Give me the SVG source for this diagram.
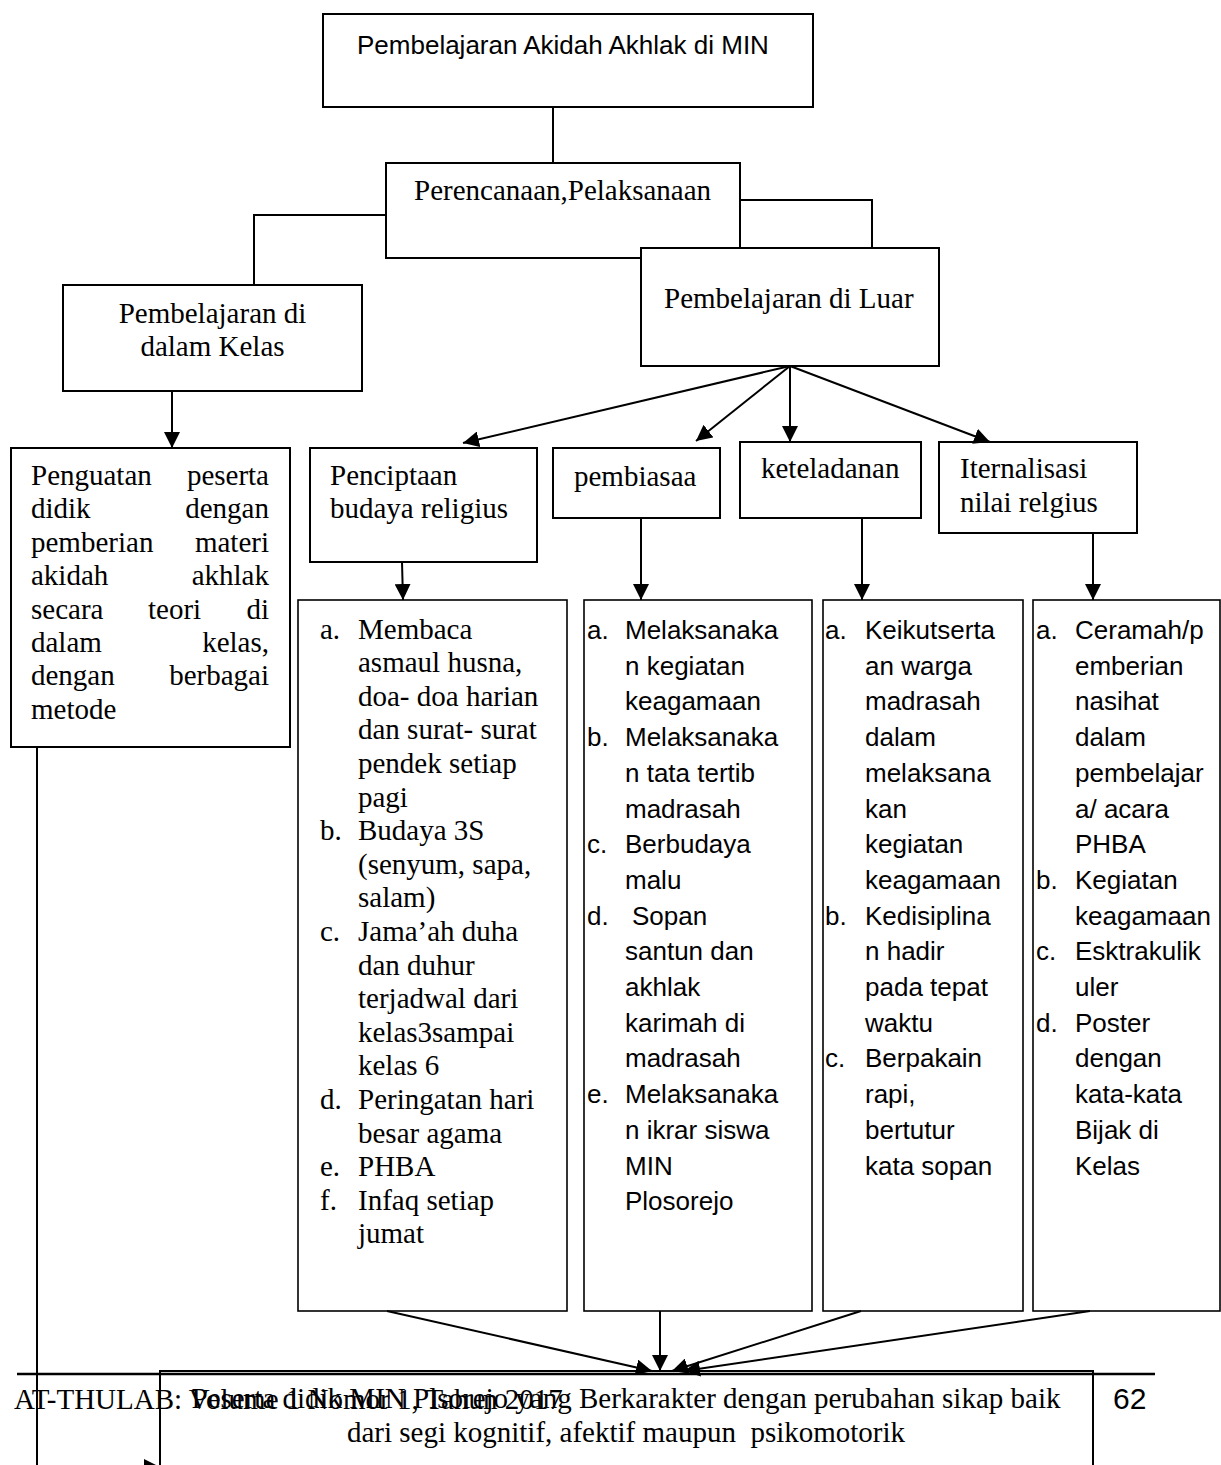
<svg xmlns="http://www.w3.org/2000/svg" width="1221" height="1465" viewBox="0 0 1221 1465">
<style>
  .box { fill: none; stroke: #000; stroke-width: 2; }
  .fbox { fill: #fff; stroke: #000; stroke-width: 2; }
  .lbox { fill: none; stroke: #000; stroke-width: 1.6; }
  .ln { fill: none; stroke: #000; stroke-width: 2; }
  .arr { fill: none; stroke: #000; stroke-width: 2; marker-end: url(#ah); }
  .serif { font-family: "Liberation Serif", "Times New Roman", serif; font-size: 29px; fill: #000; }
  .sans { font-family: "Liberation Sans", Arial, sans-serif; font-size: 26px; fill: #000; }
  .mid { text-anchor: middle; }
  .end { text-anchor: end; }
</style>
<defs>
  <marker id="ah" markerUnits="userSpaceOnUse" markerWidth="16" markerHeight="16" refX="16" refY="8" orient="auto" viewBox="0 0 16 16">
    <path d="M0,0 L16,8 L0,16 Z" fill="#000"/>
  </marker>
</defs>
<rect width="1221" height="1465" fill="#fff"/>

<g id="connectors">
  <line class="ln" x1="553" y1="107" x2="553" y2="163"/>
  <polyline class="ln" points="386,215 254,215 254,285"/>
  <polyline class="ln" points="740,200 872,200 872,248"/>
  <line class="arr" x1="172" y1="391" x2="172" y2="448"/>
  <line class="arr" x1="790" y1="366" x2="463" y2="443"/>
  <line class="arr" x1="790" y1="366" x2="696" y2="441"/>
  <line class="arr" x1="790" y1="366" x2="790" y2="442"/>
  <line class="arr" x1="790" y1="366" x2="990" y2="442"/>
  <line class="arr" x1="402" y1="562" x2="403" y2="600"/>
  <line class="arr" x1="641" y1="518" x2="641" y2="600"/>
  <line class="arr" x1="862" y1="518" x2="862" y2="600"/>
  <line class="arr" x1="1093" y1="533" x2="1093" y2="600"/>
  <line class="arr" x1="387" y1="1311" x2="652" y2="1371"/>
  <line class="arr" x1="660" y1="1311" x2="660" y2="1371"/>
  <line class="arr" x1="861" y1="1311" x2="672" y2="1371"/>
  <line class="arr" x1="1090" y1="1311" x2="684" y2="1371"/>
  <polyline class="arr" points="37,747 37,1467 160,1467"/>
</g>

<g id="node-top">
  <rect class="box" x="323" y="14" width="490" height="93"/>
  <text class="sans" x="357" y="54">Pembelajaran Akidah Akhlak di MIN</text>
</g>

<g id="node-perencanaan">
  <rect class="box" x="386" y="163" width="354" height="95"/>
  <text class="serif" x="414" y="200">Perencanaan,Pelaksanaan</text>
</g>

<g id="node-dalam">
  <rect class="box" x="63" y="285" width="299" height="106"/>
  <text class="serif mid" x="212.5" y="322.7">Pembelajaran di</text>
  <text class="serif mid" x="212.5" y="356">dalam Kelas</text>
</g>

<g id="node-luar">
  <rect class="fbox" x="641" y="248" width="298" height="118"/>
  <text class="serif" x="664" y="308">Pembelajaran di Luar</text>
</g>

<g id="node-penguatan">
  <rect class="box" x="11" y="448" width="279" height="299"/>
  <text class="serif" x="31" y="485">Penguatan</text><text class="serif end" x="269" y="485">peserta</text>
  <text class="serif" x="31" y="518.4">didik</text><text class="serif end" x="269" y="518.4">dengan</text>
  <text class="serif" x="31" y="551.8">pemberian</text><text class="serif end" x="269" y="551.8">materi</text>
  <text class="serif" x="31" y="585.2">akidah</text><text class="serif end" x="269" y="585.2">akhlak</text>
  <text class="serif" x="31" y="618.6">secara</text><text class="serif" x="148" y="618.6">teori</text><text class="serif end" x="269" y="618.6">di</text>
  <text class="serif" x="31" y="652">dalam</text><text class="serif end" x="269" y="652">kelas,</text>
  <text class="serif" x="31" y="685.4">dengan</text><text class="serif end" x="269" y="685.4">berbagai</text>
  <text class="serif" x="31" y="718.8">metode</text>
</g>

<g id="node-penciptaan">
  <rect class="box" x="310" y="448" width="227" height="114"/>
  <text class="serif" x="330" y="485">Penciptaan</text>
  <text class="serif" x="330" y="518">budaya religius</text>
</g>

<g id="node-pembiasaa">
  <rect class="box" x="553" y="448" width="167" height="70"/>
  <text class="serif" x="574" y="486">pembiasaa</text>
</g>

<g id="node-keteladanan">
  <rect class="box" x="740" y="442" width="181" height="76"/>
  <text class="serif" x="761" y="478">keteladanan</text>
</g>

<g id="node-iternalisasi">
  <rect class="box" x="939" y="442" width="198" height="91"/>
  <text class="serif" x="960" y="478">Iternalisasi</text>
  <text class="serif" x="960" y="512">nilai relgius</text>
</g>

<g id="node-list-budaya">
  <rect class="lbox" x="298" y="600" width="269" height="711"/>
  <text class="serif" x="320" y="638.5">a.</text><text class="serif" x="358" y="638.5">Membaca</text>
  <text class="serif" x="358" y="672.1">asmaul husna,</text>
  <text class="serif" x="358" y="705.7">doa- doa harian</text>
  <text class="serif" x="358" y="739.3">dan surat- surat</text>
  <text class="serif" x="358" y="772.9">pendek setiap</text>
  <text class="serif" x="358" y="806.5">pagi</text>
  <text class="serif" x="320" y="840.1">b.</text><text class="serif" x="358" y="840.1">Budaya 3S</text>
  <text class="serif" x="358" y="873.7">(senyum, sapa,</text>
  <text class="serif" x="358" y="907.3">salam)</text>
  <text class="serif" x="320" y="940.9">c.</text><text class="serif" x="358" y="940.9">Jama’ah duha</text>
  <text class="serif" x="358" y="974.5">dan duhur</text>
  <text class="serif" x="358" y="1008.1">terjadwal dari</text>
  <text class="serif" x="358" y="1041.7">kelas3sampai</text>
  <text class="serif" x="358" y="1075.3">kelas 6</text>
  <text class="serif" x="320" y="1108.9">d.</text><text class="serif" x="358" y="1108.9">Peringatan hari</text>
  <text class="serif" x="358" y="1142.5">besar agama</text>
  <text class="serif" x="320" y="1176.1">e.</text><text class="serif" x="358" y="1176.1">PHBA</text>
  <text class="serif" x="320" y="1209.7">f.</text><text class="serif" x="358" y="1209.7">Infaq setiap</text>
  <text class="serif" x="358" y="1243.3">jumat</text>
</g>

<g id="node-list-pembiasaan">
  <rect class="lbox" x="584" y="600" width="228" height="711"/>
  <text class="sans" x="587" y="639">a.</text><text class="sans" x="625" y="639">Melaksanaka</text>
  <text class="sans" x="625" y="674.7">n kegiatan</text>
  <text class="sans" x="625" y="710.4">keagamaan</text>
  <text class="sans" x="587" y="746.1">b.</text><text class="sans" x="625" y="746.1">Melaksanaka</text>
  <text class="sans" x="625" y="781.8">n tata tertib</text>
  <text class="sans" x="625" y="817.5">madrasah</text>
  <text class="sans" x="587" y="853.2">c.</text><text class="sans" x="625" y="853.2">Berbudaya</text>
  <text class="sans" x="625" y="888.9">malu</text>
  <text class="sans" x="587" y="924.6">d.</text><text class="sans" x="632" y="924.6">Sopan</text>
  <text class="sans" x="625" y="960.3">santun dan</text>
  <text class="sans" x="625" y="996">akhlak</text>
  <text class="sans" x="625" y="1031.7">karimah di</text>
  <text class="sans" x="625" y="1067.4">madrasah</text>
  <text class="sans" x="587" y="1103.1">e.</text><text class="sans" x="625" y="1103.1">Melaksanaka</text>
  <text class="sans" x="625" y="1138.8">n ikrar siswa</text>
  <text class="sans" x="625" y="1174.5">MIN</text>
  <text class="sans" x="625" y="1210.2">Plosorejo</text>
</g>

<g id="node-list-keteladanan">
  <rect class="lbox" x="823" y="600" width="200" height="711"/>
  <text class="sans" x="825" y="639">a.</text><text class="sans" x="865" y="639">Keikutserta</text>
  <text class="sans" x="865" y="674.7">an warga</text>
  <text class="sans" x="865" y="710.4">madrasah</text>
  <text class="sans" x="865" y="746.1">dalam</text>
  <text class="sans" x="865" y="781.8">melaksana</text>
  <text class="sans" x="865" y="817.5">kan</text>
  <text class="sans" x="865" y="853.2">kegiatan</text>
  <text class="sans" x="865" y="888.9">keagamaan</text>
  <text class="sans" x="825" y="924.6">b.</text><text class="sans" x="865" y="924.6">Kedisiplina</text>
  <text class="sans" x="865" y="960.3">n hadir</text>
  <text class="sans" x="865" y="996">pada tepat</text>
  <text class="sans" x="865" y="1031.7">waktu</text>
  <text class="sans" x="825" y="1067.4">c.</text><text class="sans" x="865" y="1067.4">Berpakain</text>
  <text class="sans" x="865" y="1103.1">rapi,</text>
  <text class="sans" x="865" y="1138.8">bertutur</text>
  <text class="sans" x="865" y="1174.5">kata sopan</text>
</g>

<g id="node-list-internalisasi">
  <rect class="lbox" x="1033" y="600" width="187" height="711"/>
  <text class="sans" x="1036" y="639">a.</text><text class="sans" x="1075" y="639">Ceramah/p</text>
  <text class="sans" x="1075" y="674.7">emberian</text>
  <text class="sans" x="1075" y="710.4">nasihat</text>
  <text class="sans" x="1075" y="746.1">dalam</text>
  <text class="sans" x="1075" y="781.8">pembelajar</text>
  <text class="sans" x="1075" y="817.5">a/ acara</text>
  <text class="sans" x="1075" y="853.2">PHBA</text>
  <text class="sans" x="1036" y="888.9">b.</text><text class="sans" x="1075" y="888.9">Kegiatan</text>
  <text class="sans" x="1075" y="924.6">keagamaan</text>
  <text class="sans" x="1036" y="960.3">c.</text><text class="sans" x="1075" y="960.3">Esktrakulik</text>
  <text class="sans" x="1075" y="996">uler</text>
  <text class="sans" x="1036" y="1031.7">d.</text><text class="sans" x="1075" y="1031.7">Poster</text>
  <text class="sans" x="1075" y="1067.4">dengan</text>
  <text class="sans" x="1075" y="1103.1">kata-kata</text>
  <text class="sans" x="1075" y="1138.8">Bijak di</text>
  <text class="sans" x="1075" y="1174.5">Kelas</text>
</g>

<g id="footer">
  <line x1="17" y1="1374" x2="1155" y2="1374" stroke="#000" stroke-width="2.5"/>
  <text class="serif" x="14" y="1409">AT-THULAB: Volume 1 Nomor 1, Tahun 2017</text>
  <text font-family="Liberation Sans, Arial, sans-serif" font-size="30" x="1113" y="1409">62</text>
</g>

<g id="node-result">
  <rect class="box" x="160" y="1371" width="933" height="130"/>
  <text class="serif mid" x="626" y="1408">Peserta didik MIN Plsorejo yang Berkarakter dengan perubahan sikap baik</text>
  <text class="serif mid" x="626" y="1441.7" xml:space="preserve">dari segi kognitif, afektif maupun  psikomotorik</text>
</g>
</svg>
